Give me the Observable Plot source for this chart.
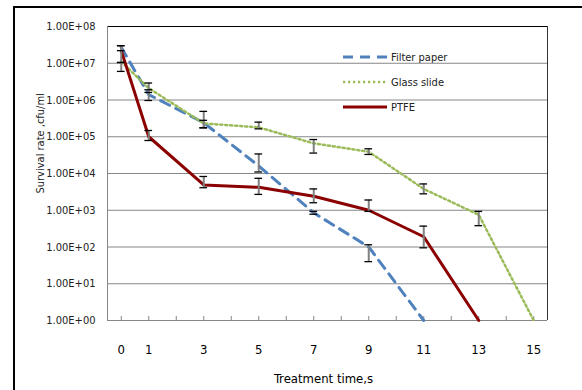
<!DOCTYPE html>
<html><head><meta charset="utf-8">
<script src="https://cdn.jsdelivr.net/npm/d3@7"></script>
<script src="https://cdn.jsdelivr.net/npm/@observablehq/plot@0.6"></script>
<style>
body{margin:0;background:#fff;}
#wrap{position:relative;width:582px;height:390px;overflow:hidden;font-family:"Liberation Sans Narrow","DejaVu Sans Condensed",sans-serif;}
#frame{position:absolute;left:13px;top:6px;width:600px;height:400px;border-top:2px solid #000;border-left:2px solid #000;box-sizing:border-box;}
#chart{position:absolute;left:0;top:0;}
#legend{position:absolute;left:0;top:0;pointer-events:none;}
</style></head><body>
<div id="wrap"><div id="frame"></div><div id="chart"></div><svg id="legend" width="582" height="390"></svg></div>
<script>
const times = [0, 1, 3, 5, 7, 9, 11, 13, 15];
const seriesNames = ["Filter paper", "Glass slide", "PTFE"];
const seriesColors = ["#4f81bd", "#9bbb59", "#8b0000"];

const filterPaper   = [2.7e7, 1.4e6, 2.4e5, 1.6e4, 8.5e2, 1.0e2, 1, null, null];
const filterPaperLo = [2.2e7, 9.7e5, 1.75e5, 1.1e4, 7.8e2, 4.0e1, null, null, null];
const filterPaperHi = [3.0e7, 1.9e6, 2.8e5, 3.4e4, 9.3e2, 1.15e2, null, null, null];

const glassSlide   = [1.1e7, 2.1e6, 2.3e5, 1.8e5, 6.6e4, 3.9e4, 3.8e3, 7.5e2, 1];
const glassSlideLo = [6.0e6, 1.6e6, 1.75e5, 1.64e5, 3.6e4, 3.3e4, 2.8e3, 3.8e2, null];
const glassSlideHi = [1.05e7, 2.9e6, 4.9e5, 2.5e5, 8.4e4, 4.7e4, 5.2e3, 9.3e2, null];

const ptfe   = [2.2e7, 1.0e5, 4.9e3, 4.2e3, 2.4e3, 1.0e3, 1.9e2, 1, null];
const ptfeLo = [1.05e7, 7.9e4, 4.1e3, 2.7e3, 1.6e3, 9.3e2, 9.5e1, null, null];
const ptfeHi = [3.0e7, 1.48e5, 8.3e3, 7.4e3, 3.8e3, 1.9e3, 3.7e2, null, null];

const xLabelTicks = [0, 1, 3, 5, 7, 9, 11, 13, 15];
const xMinorTicks = d3.range(0, 16);
const yTicks = [1, 1e1, 1e2, 1e3, 1e4, 1e5, 1e6, 1e7, 1e8];
const yTickLabels = ["1.00E+00","1.00E+01","1.00E+02","1.00E+03","1.00E+04","1.00E+05","1.00E+06","1.00E+07","1.00E+08"];

const values = [filterPaper, glassSlide, ptfe];
const los = [filterPaperLo, glassSlideLo, ptfeLo];
const his = [filterPaperHi, glassSlideHi, ptfeHi];

const lineRows = seriesNames.map((s, i) =>
  times.map((t, j) => ({series: s, t, v: values[i][j]})).filter(d => d.v != null));
const errRows = seriesNames.flatMap((s, i) =>
  times.map((t, j) => ({series: s, t, lo: los[i][j], hi: his[i][j]})).filter(d => d.lo != null));

const font = '"Liberation Sans Narrow","DejaVu Sans Condensed",sans-serif';
const capHalf = 0.14;

const chart = Plot.plot({
  width: 582, height: 390,
  marginLeft: 107, marginRight: 35, marginTop: 26, marginBottom: 70,
  style: {background: "transparent", fontFamily: font, fontSize: "11px", color: "#000"},
  x: {domain: [-0.5, 15.5]},
  y: {type: "log", domain: [1, 1e8]},
  marks: [
    Plot.ruleY(yTicks.slice(1, -1), {stroke: "#868686", strokeWidth: 1}),
    Plot.ruleY([1e8], {stroke: "#000", strokeWidth: 1.2}),
    Plot.ruleX([15.5], {stroke: "#333", strokeWidth: 1}),
    Plot.ruleX([-0.5], {stroke: "#868686", strokeWidth: 1}),
    Plot.ruleY([1], {stroke: "#868686", strokeWidth: 1.2}),
    Plot.axisX({ticks: xMinorTicks, tickSize: 4, dy: -4, tickFormat: () => "", stroke: "#868686", label: null}),
    Plot.axisX({ticks: xLabelTicks, tickSize: 0, tickPadding: 24, fontSize: 13, fontFamily: font, label: null, fill: "#000"}),
    Plot.axisY({ticks: yTicks, tickSize: 0, tickPadding: 12, fontSize: 11, fontFamily: font, tickFormat: d => yTickLabels[yTicks.indexOf(d)], label: null, fill: "#222"}),
    Plot.line(lineRows[0], {x: "t", y: "v", stroke: seriesColors[0], strokeWidth: 3, strokeDasharray: "10,7"}),
    Plot.line(lineRows[1], {x: "t", y: "v", stroke: seriesColors[1], strokeWidth: 2.5, strokeDasharray: "2.2,2.8"}),
    Plot.line(lineRows[2], {x: "t", y: "v", stroke: seriesColors[2], strokeWidth: 3}),
    Plot.ruleX(errRows, {x: "t", y1: "lo", y2: "hi", stroke: "#808080", strokeWidth: 2}),
    Plot.ruleY(errRows, {y: "lo", x1: d => d.t - capHalf, x2: d => d.t + capHalf, stroke: "#000", strokeWidth: 1.3}),
    Plot.ruleY(errRows, {y: "hi", x1: d => d.t - capHalf, x2: d => d.t + capHalf, stroke: "#000", strokeWidth: 1.3}),
    Plot.text(["Treatment time,s"], {frameAnchor: "bottom", dx: -4, dy: 62, fontSize: 13, fontFamily: font, fill: "#000"}),
    Plot.text(["Survival rate ,cfu/ml"], {frameAnchor: "left", rotate: -90, dx: -67, dy: 20, fontSize: 11, fontFamily: font, fill: "#222"})
  ]
});
document.getElementById("chart").appendChild(chart);

// legend
const lg = d3.select("#legend");
const legendY = [57, 82, 107];
const dashes = ["10,7", "2.2,2.8", null];
const widths = [3, 2.5, 3];
seriesNames.forEach((s, i) => {
  const ln = lg.append("line").attr("x1", 343).attr("x2", 387).attr("y1", legendY[i]).attr("y2", legendY[i])
    .attr("stroke", seriesColors[i]).attr("stroke-width", widths[i]);
  if (dashes[i]) ln.attr("stroke-dasharray", dashes[i]);
  lg.append("text").attr("x", 391).attr("y", legendY[i]).attr("dy", "0.35em")
    .attr("font-family", font).attr("font-size", 11).attr("fill", "#222").text(s);
});
</script>
</body></html>
